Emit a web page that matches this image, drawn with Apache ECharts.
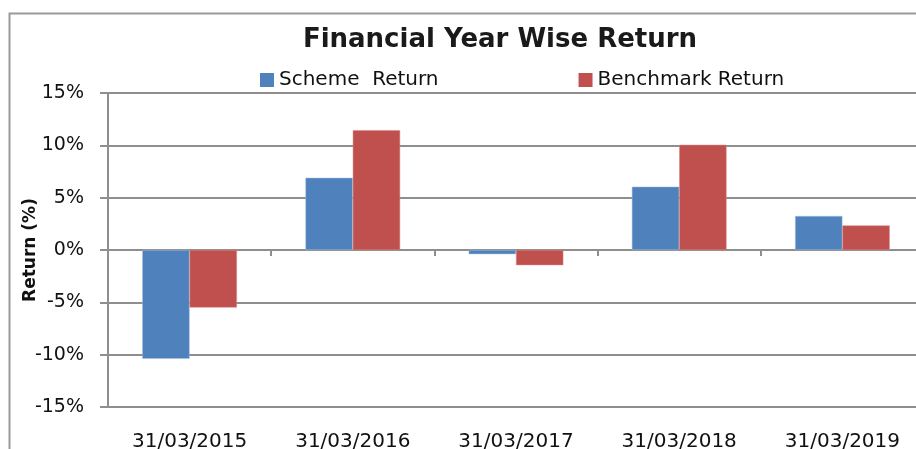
<!DOCTYPE html>
<html>
<head>
<meta charset="utf-8">
<script src="https://cdn.jsdelivr.net/npm/echarts@6/dist/echarts.min.js"></script>
<style>html,body{margin:0;padding:0;background:#fff}#c{width:916px;height:449px}</style>
</head>
<body>
<div id="c"></div>
<script>
const categories = ['31/03/2015', '31/03/2016', '31/03/2017', '31/03/2018', '31/03/2019'];
const schemeReturn = [-10.4, 6.9, -0.4, 6.05, 3.25];
const benchmarkReturn = [-5.5, 11.45, -1.45, 10.05, 2.35];
const yTicks = [-15, -10, -5, 0, 5, 10, 15];

const chart = echarts.init(document.getElementById('c'));
const gridColor = '#8e8e8e';
chart.setOption({
  animation: false,
  backgroundColor: '#fff',
  graphic: [{
    type: 'rect', left: 7, top: 11, shape: { width: 1000, height: 1000 },
    style: { fill: 'none', stroke: '#9a9a9a', lineWidth: 2 }, z: -1
  }],
  title: {
    text: 'Financial Year Wise Return', left: 495, textAlign: 'center', top: 22,
    textStyle: { fontFamily: 'DejaVu Sans', fontWeight: 'bold', fontSize: 26, color: '#1a1a1a' }
  },
  legend: {
    top: 65, left: 255, itemGap: 140, itemWidth: 14, itemHeight: 14,
    icon: 'rect', itemStyle: { borderWidth: 0 },
    textStyle: { fontFamily: 'DejaVu Sans', fontSize: 20, color: '#111' },
    data: ['Scheme  Return', 'Benchmark Return']
  },
  grid: { left: 108, top: 93, width: 816, height: 314, containLabel: false, outerBoundsMode: 'none' },
  xAxis: [{
    type: 'category', data: categories, position: 'bottom',
    axisLine: { show: false, onZero: false },
    axisTick: { show: false },
    axisLabel: { margin: 25, fontFamily: 'DejaVu Sans', fontSize: 20, color: '#111' }
  }, {
    type: 'category', data: categories, position: 'bottom',
    axisLine: { show: true, onZero: true, lineStyle: { color: gridColor, width: 2 } },
    axisTick: { show: true, length: 6, lineStyle: { color: gridColor, width: 2 } },
    axisLabel: { show: false }
  }],
  yAxis: {
    type: 'value', min: -15, max: 15, interval: 5,
    name: 'Return (%)', nameLocation: 'middle', nameGap: 69, nameRotate: 90, nameMoveOverlap: false,
    nameTextStyle: { fontFamily: 'DejaVu Sans', fontWeight: 'bold', fontSize: 17, color: '#111' },
    axisLine: { show: true, lineStyle: { color: gridColor, width: 2 } },
    axisTick: { show: true, length: 8, lineStyle: { color: gridColor, width: 2 } },
    axisLabel: {
      margin: 24, fontFamily: 'DejaVu Sans', fontSize: 19, color: '#111',
      formatter: v => yTicks.includes(v) ? v + '%' : ''
    },
    splitLine: { show: true, lineStyle: { color: gridColor, width: 2 } }
  },
  series: [{
    name: 'Scheme  Return', type: 'bar', data: schemeReturn, xAxisIndex: 0,
    barGap: '0%', barCategoryGap: '42%',
    itemStyle: { color: '#4f81bd', borderColor: '#a9c0de', borderWidth: 0.5 }
  }, {
    name: 'Benchmark Return', type: 'bar', data: benchmarkReturn, xAxisIndex: 0,
    barGap: '0%', barCategoryGap: '42%',
    itemStyle: { color: '#c0504d', borderColor: '#d88a88', borderWidth: 0.5 }
  }]
});
</script>
</body>
</html>
